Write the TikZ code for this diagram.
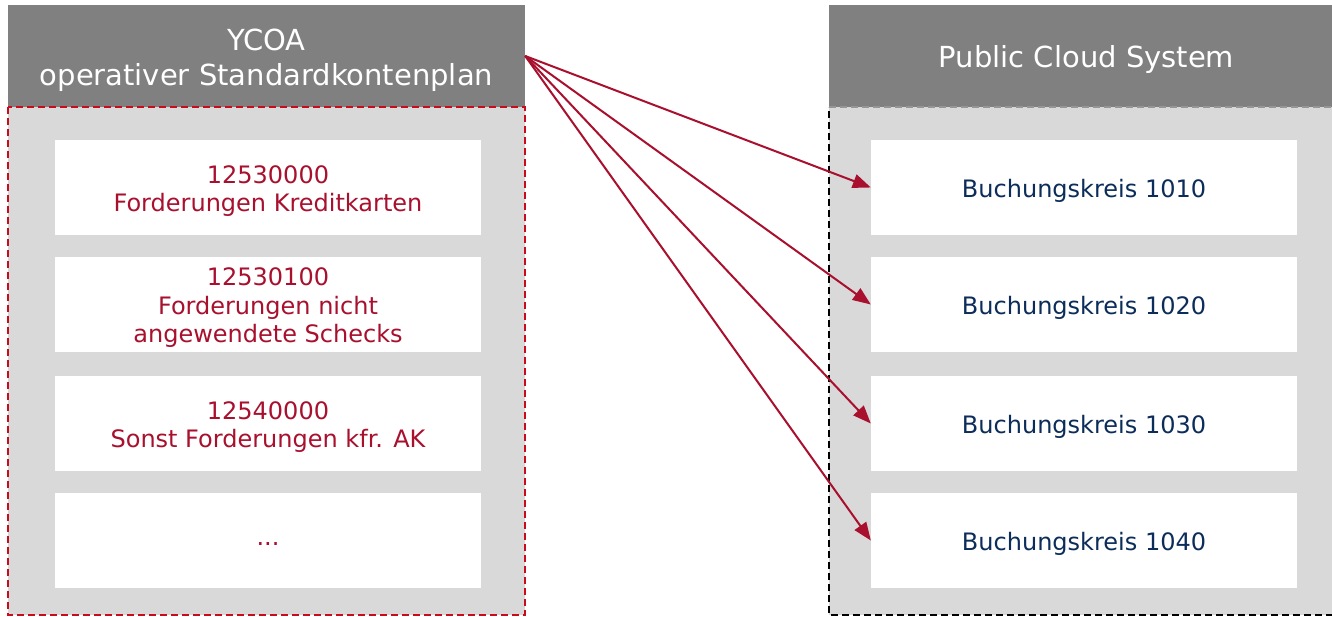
\documentclass[tikz,border=0pt]{standalone}
\usepackage{fontspec}
\setmainfont{DejaVu Sans}
\usetikzlibrary{arrows.meta}
\definecolor{hdrgray}{RGB}{128,128,128}
\definecolor{bodygray}{RGB}{217,217,217}
\definecolor{acred}{RGB}{168,16,46}
\definecolor{dashred}{RGB}{200,12,28}
\definecolor{navy}{RGB}{12,45,90}
\definecolor{dashgray}{RGB}{150,150,150}
\begin{document}
\begin{tikzpicture}[x=1pt,y=-1pt,
  header/.style={fill=hdrgray,draw=none,inner sep=0pt,minimum height=102pt},
  hdrtxt/.style={text=white,inner sep=0pt,align=center,yshift=-4pt,
    font=\fontsize{29}{35}\selectfont},
  item/.style={fill=white,draw=none,inner sep=0pt,minimum width=426pt,minimum height=95pt},
  itemtxt/.style={inner sep=0pt,align=center,yshift=-3.5pt,font=\fontsize{24}{28.5}\selectfont},
  lefttxt/.style={itemtxt,text=acred},
  righttxt/.style={itemtxt,text=navy},
  bodyline/.style={line width=2pt,dash pattern=on 7pt off 4pt},
  link/.style={draw=acred,line width=2pt,-{Triangle[length=18pt,width=14pt]}}
]
\clip (0,0) rectangle (1332,617);
\fill[white] (0,0) rectangle (1332,617);

% left column
\node[header,minimum width=517pt] (hdrL) at (266.5,56) {};
\node[hdrtxt] (hdrLt) at (hdrL) {YCOA\\operativer Standardkontenplan};
\path[bodyline,fill=bodygray,draw=dashred] (8,107) rectangle (525,615);

% right column
\node[header,minimum width=515pt] (hdrR) at (1086.5,56) {};
\node[hdrtxt] (hdrRt) at (hdrR) {Public Cloud System};
\fill[bodygray] (829,107) rectangle (1344,615);
\draw[bodyline,black] (1344,615) -- (829,615) -- (829,107);
\draw[bodyline,dashgray] (829,107) -- (1344,107);

% left items
\node[item] (l1) at (268,187.5) {};
\node[item] (l2) at (268,304.5) {};
\node[item] (l3) at (268,423.5) {};
\node[item] (l4) at (268,540.5) {};
\node[lefttxt] (l1t) at (l1) {12530000\\Forderungen Kreditkarten};
\node[lefttxt] (l2t) at (l2) {12530100\\Forderungen nicht\\angewendete Schecks};
\node[lefttxt] (l3t) at (l3) {12540000\\Sonst Forderungen kfr. AK};
\node[lefttxt] (l4t) at (l4) {...};

% right items
\node[item] (r1) at (1084,187.5) {};
\node[item] (r2) at (1084,304.5) {};
\node[item] (r3) at (1084,423.5) {};
\node[item] (r4) at (1084,540.5) {};
\node[righttxt] (r1t) at (r1) {Buchungskreis 1010};
\node[righttxt] (r2t) at (r2) {Buchungskreis 1020};
\node[righttxt] (r3t) at (r3) {Buchungskreis 1030};
\node[righttxt] (r4t) at (r4) {Buchungskreis 1040};

% connectors
\draw[link] (hdrL.east) -- (r1.west);
\draw[link] (hdrL.east) -- (r2.west);
\draw[link] (hdrL.east) -- (r3.west);
\draw[link] (hdrL.east) -- (r4.west);
\end{tikzpicture}
\end{document}
